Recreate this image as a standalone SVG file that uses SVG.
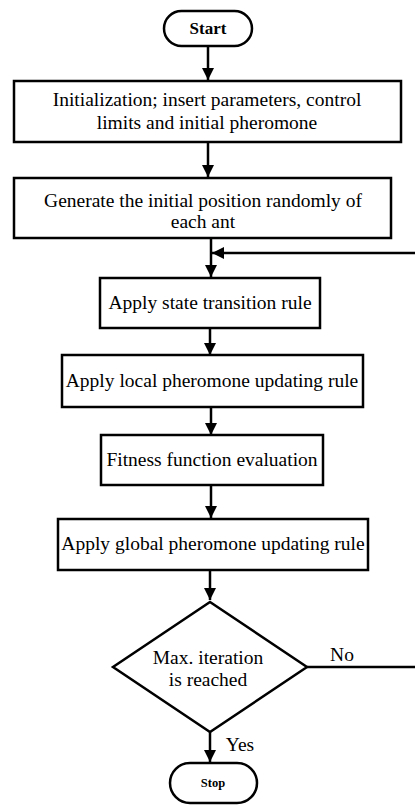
<svg xmlns="http://www.w3.org/2000/svg" width="415" height="805" viewBox="0 0 415 805">
<defs>
<marker id="ah" viewBox="0 0 12 12" refX="12" refY="6" markerWidth="12" markerHeight="12" markerUnits="userSpaceOnUse" orient="auto">
<path d="M0,0 L12,6 L0,12 Z" fill="#000"/>
</marker>
<style>
.n{fill:#fff;stroke:#000;stroke-width:2.5}
.t{font-family:'Liberation Serif','Times New Roman','DejaVu Serif',serif;font-size:19.5px;fill:#000;text-anchor:middle}
.b{font-weight:bold}
.s1{font-size:17px}
.s2{font-size:12.5px}
.c{fill:none;stroke:#000;stroke-width:2.5}
</style>
</defs>
<rect width="415" height="805" fill="#fff"/>
<g id="connectors">
<line class="c" x1="208" y1="46" x2="208" y2="80" marker-end="url(#ah)"/>
<line class="c" x1="208" y1="142" x2="208" y2="177" marker-end="url(#ah)"/>
<line class="c" x1="211" y1="238" x2="211" y2="277" marker-end="url(#ah)"/>
<line class="c" x1="415" y1="253" x2="212" y2="253" marker-end="url(#ah)"/>
<line class="c" x1="210" y1="328" x2="210" y2="355" marker-end="url(#ah)"/>
<line class="c" x1="211" y1="407" x2="211" y2="435" marker-end="url(#ah)"/>
<line class="c" x1="211" y1="485" x2="211" y2="518" marker-end="url(#ah)"/>
<line class="c" x1="210" y1="570" x2="210" y2="600" marker-end="url(#ah)"/>
<line class="c" x1="307" y1="667" x2="415" y2="667"/>
<line class="c" x1="210" y1="732" x2="210" y2="762" marker-end="url(#ah)"/>
<text class="t" x="342" y="661">No</text>
<text class="t" x="240" y="751">Yes</text>
</g>
<g id="start">
<rect class="n" x="164" y="11" width="88" height="35" rx="17.5"/>
<text class="t b s1" x="208" y="34">Start</text>
</g>
<g id="init">
<rect class="n" x="14" y="81" width="387" height="61"/>
<text class="t" x="207" y="106">Initialization; insert parameters, control</text>
<text class="t" x="207" y="129">limits and initial pheromone</text>
</g>
<g id="generate">
<rect class="n" x="14" y="178" width="377" height="60"/>
<text class="t" x="203" y="207">Generate the initial position randomly of</text>
<text class="t" x="203" y="228">each ant</text>
</g>
<g id="state">
<rect class="n" x="100" y="278" width="220" height="50"/>
<text class="t" x="210" y="309">Apply state transition rule</text>
</g>
<g id="local">
<rect class="n" x="62" y="355" width="301" height="52"/>
<text class="t" x="212" y="387">Apply local pheromone updating rule</text>
</g>
<g id="fitness">
<rect class="n" x="101" y="435" width="222" height="50"/>
<text class="t" x="212" y="466">Fitness function evaluation</text>
</g>
<g id="global">
<rect class="n" x="58" y="519" width="310" height="51"/>
<text class="t" x="213" y="550">Apply global pheromone updating rule</text>
</g>
<g id="decision">
<polygon class="n" points="210,602 307,667 210,732 113,667"/>
<text class="t" x="208" y="664">Max. iteration</text>
<text class="t" x="208" y="686">is reached</text>
</g>
<g id="stop">
<rect class="n" x="170" y="763" width="87" height="40" rx="20"/>
<text class="t b s2" x="213" y="787">Stop</text>
</g>
</svg>
